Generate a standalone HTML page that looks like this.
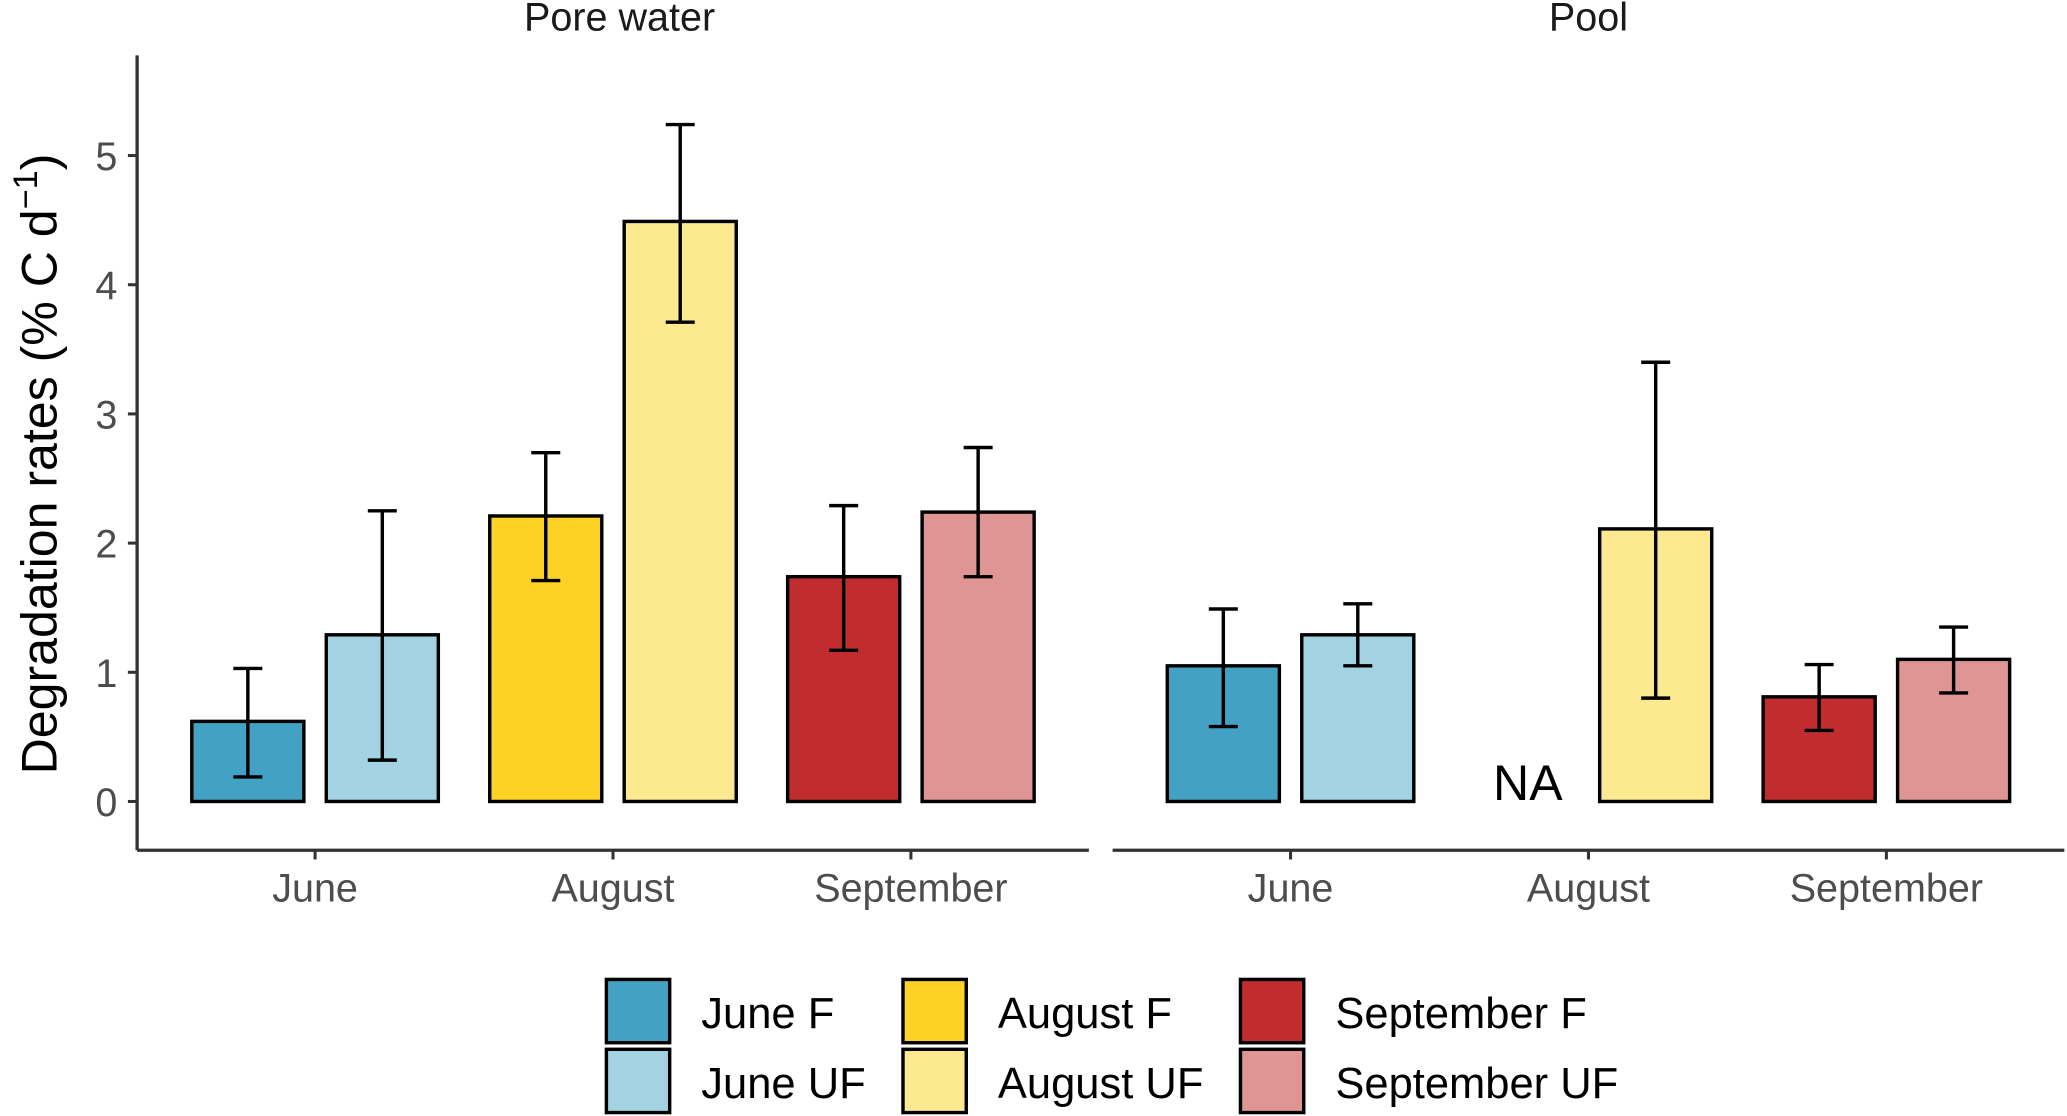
<!DOCTYPE html>
<html><head><meta charset="utf-8"><style>
html,body{margin:0;padding:0;background:#fff;}
svg{display:block;font-family:"Liberation Sans",Arial,sans-serif;}
</style></head><body>
<svg id="chart" width="2067" height="1116" viewBox="0 0 1568 846.6" xmlns="http://www.w3.org/2000/svg"></svg>
<script>
const panels = ["Pore water", "Pool"];
const months = ["June", "August", "September"];
const series = ["F", "UF"];
const pwMean = [0.62, 1.29, 2.21, 4.49, 1.74, 2.24];
const pwLow  = [0.19, 0.32, 1.71, 3.71, 1.17, 1.74];
const pwHigh = [1.03, 2.25, 2.70, 5.24, 2.29, 2.74];
const poolMean = [1.05, 1.29, null, 2.11, 0.81, 1.10];
const poolLow  = [0.58, 1.05, null, 0.80, 0.55, 0.84];
const poolHigh = [1.49, 1.53, null, 3.40, 1.06, 1.35];
const yTicks = [0, 1, 2, 3, 4, 5];
const colors = ["#43a2c4", "#a3d2e2", "#fdd225", "#fde98f", "#c12d2e", "#e09595"];
const legendLabels = ["June F", "June UF", "August F", "August UF", "September F", "September UF"];

const NS = "http://www.w3.org/2000/svg";
const svg = document.getElementById("chart");
function mk(tag, attrs, parent){ const e=document.createElementNS(NS,tag); for(const k in attrs) e.setAttribute(k,attrs[k]); (parent||svg).appendChild(e); return e; }
const y = v => 608 - v*98;
const panelX0 = [104, 844];
const groupCenter = (p,g) => [239,465,691][g] + (p===1 ? 740 : 0);
const bw = 85, dodge = 51;

const panelData = [[pwMean,pwLow,pwHigh],[poolMean,poolLow,poolHigh]];
panels.forEach((pn,p)=>{
  const t = mk("text",{x: p===0?470:1205, y:23, "text-anchor":"middle", "font-size":30, fill:"#1a1a1a"});
  t.textContent = pn;
  
  
  const ax = mk("line",{x1:panelX0[p], x2:panelX0[p]+722, y1:645, y2:645, stroke:"#333", "stroke-width":2.5});
  
  
  months.forEach((m,g)=>{
    const cx = groupCenter(p,g);
    const tk = mk("line",{x1:cx,x2:cx,y1:645,y2:652,stroke:"#333","stroke-width":2.3});
    
    
    const lb = mk("text",{x:cx,y:684,"text-anchor":"middle","font-size":30,fill:"#4d4d4d"});
    lb.textContent = m;
    
    
    series.forEach((s,si)=>{
      const i = g*2+si;
      const [mean,lo,hi] = panelData[p];
      const bx = cx + (si===0?-dodge:dodge);
      if(mean[i]===null){
        const na = mk("text",{x:bx+5,y:y(0)-1,"text-anchor":"middle","font-size":38,fill:"#000"});
        na.textContent = "NA";
        
        
        return;
      }
      const r = mk("rect",{x:bx-bw/2,y:y(mean[i]),width:bw,height:y(0)-y(mean[i]),fill:colors[i],stroke:"#000","stroke-width":2.6});
      
      
      const eg = mk("g",{stroke:"#000","stroke-width":2.6});
      
      
      mk("line",{x1:bx,x2:bx,y1:y(lo[i]),y2:y(hi[i])},eg);
      mk("line",{x1:bx-11,x2:bx+11,y1:y(lo[i]),y2:y(lo[i])},eg);
      mk("line",{x1:bx-11,x2:bx+11,y1:y(hi[i]),y2:y(hi[i])},eg);
    });
  });
});
const yax = mk("line",{x1:104,x2:104,y1:42,y2:645,stroke:"#333","stroke-width":2.5});


yTicks.forEach(v=>{
  const tk = mk("line",{x1:97,x2:104,y1:y(v),y2:y(v),stroke:"#333","stroke-width":2.3});
  
  
  const lb = mk("text",{x:89,y:y(v)+11,"text-anchor":"end","font-size":30,fill:"#4d4d4d"});
  lb.textContent = v;
  
  
});
const yt = mk("text",{transform:"translate(43,352) rotate(-90)","text-anchor":"middle","font-size":38,fill:"#000"});
yt.innerHTML = 'Degradation rates (% C d<tspan dy="-15" font-size="26">−1</tspan><tspan dy="15">)</tspan>';



const legX = [460, 685, 941];
legendLabels.forEach((l,i)=>{
  const col = Math.floor(i/2), row = i%2;
  const g = mk("g",{});
  
  
  const ky = 743 + row*53;
  mk("rect",{x:legX[col],y:ky,width:48,height:48,fill:colors[i],stroke:"#000","stroke-width":2.6},g);
  const t = mk("text",{x:legX[col]+72,y:ky+37,"font-size":33,fill:"#000"},g);
  t.textContent = l;
});
</script>
</body></html>
